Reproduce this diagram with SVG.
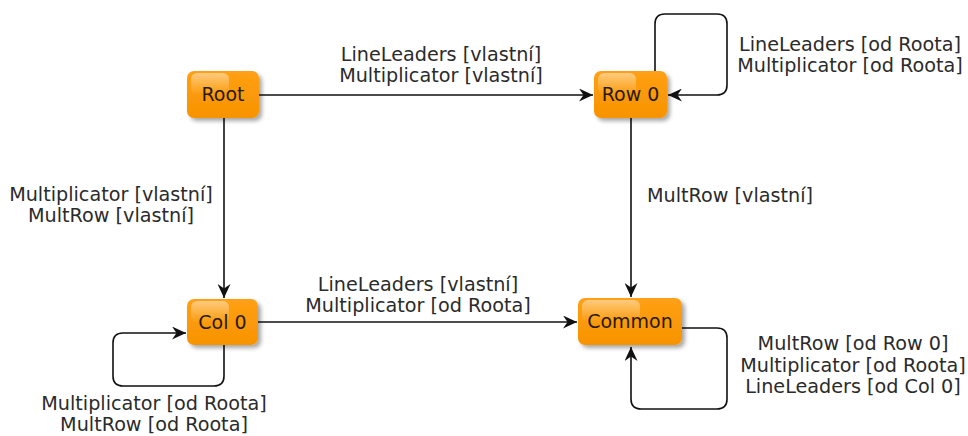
<svg xmlns="http://www.w3.org/2000/svg" width="968" height="436" viewBox="0 0 968 436">
  <defs>
    <style>
      .node rect.body { fill: url(#boxFill); filter: url(#shadow); }
      .node rect.gloss { fill: url(#glossFill); }
      .node text { font-family: "DejaVu Sans", Verdana, sans-serif; font-size: 19px; fill: #2a1a00; text-anchor: middle; }
      .edge { fill: none; stroke: #111; stroke-width: 1.6; marker-end: url(#arrow); }
      .lbl { font-family: "DejaVu Sans", Verdana, sans-serif; font-size: 19.2px; fill: #2b2b2b; text-anchor: middle; }
    </style>
    <linearGradient id="boxFill" x1="0" y1="0" x2="0" y2="1">
      <stop offset="0" stop-color="#ffa014"/>
      <stop offset="1" stop-color="#f79300"/>
    </linearGradient>
    <linearGradient id="glossFill" x1="0" y1="0" x2="0" y2="1">
      <stop offset="0" stop-color="#ffffff" stop-opacity="0.45"/>
      <stop offset="1" stop-color="#ffffff" stop-opacity="0"/>
    </linearGradient>
    <filter id="shadow" x="-20%" y="-20%" width="150%" height="160%">
      <feGaussianBlur in="SourceAlpha" stdDeviation="2"/>
      <feOffset dx="3" dy="3" result="b"/>
      <feComponentTransfer><feFuncA type="linear" slope="0.35"/></feComponentTransfer>
      <feMerge><feMergeNode/><feMergeNode in="SourceGraphic"/></feMerge>
    </filter>
    <marker id="arrow" markerUnits="userSpaceOnUse" markerWidth="15" markerHeight="13" refX="14" refY="6.5" orient="auto">
      <path d="M0,0 L14,6.5 L0,13 L4.5,6.5 z" fill="#111"/>
    </marker>
  </defs>

  <!-- connectors -->
  <g id="connectors">
    <path class="edge" d="M259,95 H593"/>
    <path class="edge" d="M224,118 V298"/>
    <path class="edge" d="M631,118 V297"/>
    <path class="edge" d="M258,322 H577"/>
    <!-- Row 0 self loop -->
    <path class="edge" d="M655,71 V24 Q655,14 665,14 H717 Q727,14 727,24 V85 Q727,95 717,95 H668"/>
    <!-- Col 0 self loop -->
    <path class="edge" d="M224,345 V376 Q224,386 214,386 H123 Q113,386 113,376 V343 Q113,333 123,333 H186"/>
    <!-- Common self loop -->
    <path class="edge" d="M682,328 H717 Q727,328 727,338 V399 Q727,409 717,409 H641 Q631,409 631,399 V347"/>
  </g>

  <g id="edge-labels">
    <text class="lbl" x="441" y="61">LineLeaders [vlastní]</text>
    <text class="lbl" x="441" y="82">Multiplicator [vlastní]</text>
    <text class="lbl" x="850" y="51">LineLeaders [od Roota]</text>
    <text class="lbl" x="850" y="72">Multiplicator [od Roota]</text>
    <text class="lbl" x="111" y="201">Multiplicator [vlastní]</text>
    <text class="lbl" x="111" y="222">MultRow [vlastní]</text>
    <text class="lbl" x="730" y="202">MultRow [vlastní]</text>
    <text class="lbl" x="418" y="291">LineLeaders [vlastní]</text>
    <text class="lbl" x="418" y="312">Multiplicator [od Roota]</text>
    <text class="lbl" x="853" y="350">MultRow [od Row 0]</text>
    <text class="lbl" x="853" y="372">Multiplicator [od Roota]</text>
    <text class="lbl" x="853" y="393">LineLeaders [od Col 0]</text>
    <text class="lbl" x="154" y="410">Multiplicator [od Roota]</text>
    <text class="lbl" x="154" y="431">MultRow [od Roota]</text>
  </g>

  <!-- nodes -->
  <g id="root" class="node">
    <rect class="body" x="187" y="71" width="72" height="47" rx="7"/>
    <rect class="gloss" x="191" y="73" width="38" height="22" rx="6"/>
    <text x="223" y="101">Root</text>
  </g>
  <g id="row0" class="node">
    <rect class="body" x="594" y="71" width="73" height="47" rx="7"/>
    <rect class="gloss" x="598" y="73" width="38" height="22" rx="6"/>
    <text x="630.5" y="101">Row 0</text>
  </g>
  <g id="col0" class="node">
    <rect class="body" x="187" y="299" width="71" height="46" rx="7"/>
    <rect class="gloss" x="191" y="301" width="38" height="22" rx="6"/>
    <text x="222.5" y="329">Col 0</text>
  </g>
  <g id="common" class="node">
    <rect class="body" x="578" y="298" width="104" height="47" rx="7"/>
    <rect class="gloss" x="582" y="300" width="58" height="22" rx="6"/>
    <text x="630" y="328">Common</text>
  </g>
</svg>
